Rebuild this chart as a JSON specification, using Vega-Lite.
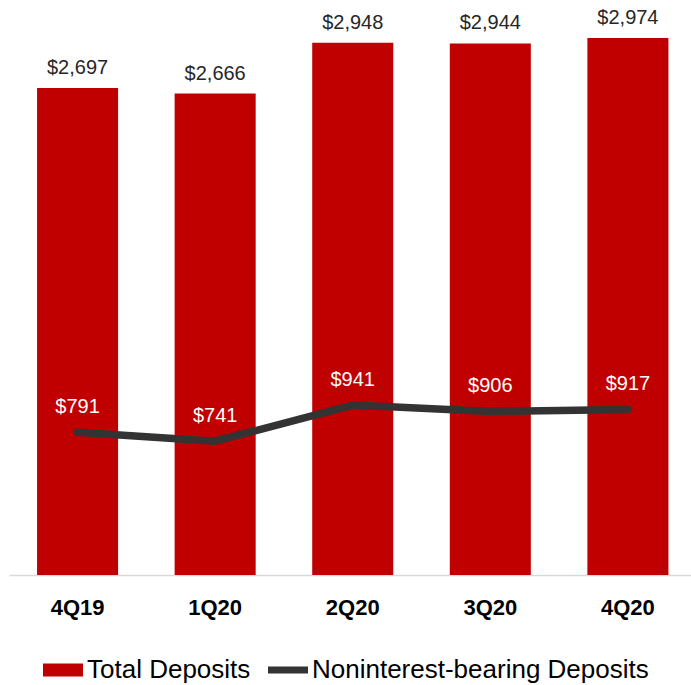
{
  "$schema": "https://vega.github.io/schema/vega-lite/v6.json",
  "width": 682,
  "height": 537,
  "padding": {"left": 9, "top": 38, "right": 0, "bottom": 110},
  "autosize": {"type": "none"},
  "background": "white",
  "config": {"view": {"stroke": null}, "font": "Liberation Sans"},
  "data": {
    "values": [
      {"quarter": "4Q19", "series": "Total Deposits", "value": 2697},
      {"quarter": "1Q20", "series": "Total Deposits", "value": 2666},
      {"quarter": "2Q20", "series": "Total Deposits", "value": 2948},
      {"quarter": "3Q20", "series": "Total Deposits", "value": 2944},
      {"quarter": "4Q20", "series": "Total Deposits", "value": 2974},
      {"quarter": "4Q19", "series": "Noninterest-bearing Deposits", "value": 791},
      {"quarter": "1Q20", "series": "Noninterest-bearing Deposits", "value": 741},
      {"quarter": "2Q20", "series": "Noninterest-bearing Deposits", "value": 941},
      {"quarter": "3Q20", "series": "Noninterest-bearing Deposits", "value": 906},
      {"quarter": "4Q20", "series": "Noninterest-bearing Deposits", "value": 917}
    ]
  },
  "encoding": {
    "x": {
      "field": "quarter",
      "type": "nominal",
      "sort": ["4Q19", "1Q20", "2Q20", "3Q20", "4Q20"],
      "scale": {"paddingInner": 0.411, "paddingOuter": 0.184, "align": 0.554},
      "axis": {
        "title": null,
        "labelAngle": 0,
        "ticks": false,
        "domainColor": "#d9d9d9",
        "domainWidth": 1.5,
        "labelFontSize": 22,
        "labelFontWeight": "bold",
        "labelColor": "#000000",
        "labelPadding": 22,
        "grid": false
      }
    },
    "y": {
      "field": "value",
      "type": "quantitative",
      "scale": {"domain": [0, 2974], "nice": false, "zero": true},
      "axis": null
    }
  },
  "layer": [
    {
      "transform": [{"filter": "datum.series === 'Total Deposits'"}],
      "mark": {"type": "bar"},
      "encoding": {
        "color": {
          "field": "series",
          "type": "nominal",
          "scale": {
            "domain": ["Total Deposits", "Noninterest-bearing Deposits"],
            "range": ["#C00000", "#333333"]
          },
          "legend": {
            "orient": "none",
            "legendX": 34,
            "legendY": 612,
            "direction": "horizontal",
            "title": null,
            "labelFontSize": 26,
            "labelColor": "#000000",
            "labelFont": "Liberation Sans",
            "labelLimit": 1000,
            "symbolSize": 1600,
            "labelOffset": 4,
            "columnPadding": 17,
            "encode": {
              "symbols": {
                "update": {
                  "shape": {"signal": "datum.value === 'Total Deposits' ? 'M-1,-0.33H1V0.33H-1Z' : 'M-1,-0.17H1V0.17H-1Z'"},
                  "fill": {"signal": "datum.value === 'Total Deposits' ? '#C00000' : '#333333'"},
                  "stroke": {"value": "transparent"},
                  "strokeWidth": {"value": 0},
                  "opacity": {"value": 1}
                }
              }
            }
          }
        }
      }
    },
    {
      "transform": [{"filter": "datum.series === 'Total Deposits'"}],
      "mark": {"type": "text", "dy": -20, "fontSize": 20, "color": "#262626", "baseline": "middle"},
      "encoding": {"text": {"field": "value", "format": "$,.0f"}}
    },
    {
      "transform": [{"filter": "datum.series === 'Noninterest-bearing Deposits'"}],
      "mark": {"type": "line", "strokeWidth": 7.5, "strokeCap": "round", "strokeJoin": "round"},
      "encoding": {"color": {"field": "series", "type": "nominal"}}
    },
    {
      "transform": [{"filter": "datum.series === 'Noninterest-bearing Deposits'"}],
      "mark": {"type": "text", "dy": -25, "fontSize": 20, "color": "#ffffff", "baseline": "middle"},
      "encoding": {"text": {"field": "value", "format": "$,.0f"}}
    }
  ]
}
